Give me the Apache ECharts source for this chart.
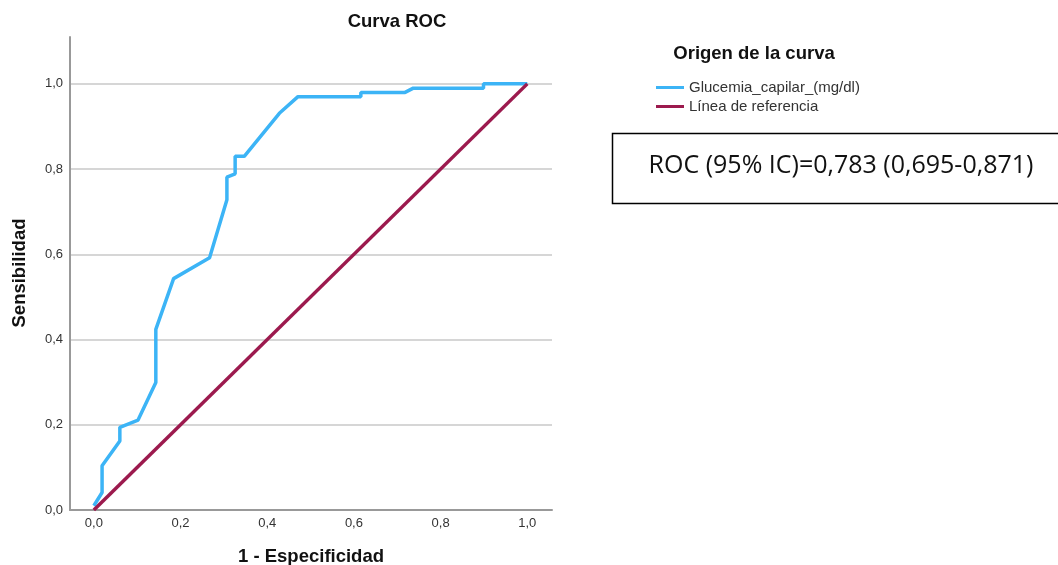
<!DOCTYPE html>
<html>
<head>
<meta charset="utf-8">
<script src="https://cdn.jsdelivr.net/npm/echarts@6/dist/echarts.min.js"></script>
<style>
  html, body { margin: 0; padding: 0; background: #fff; }
  #chart { width: 1058px; height: 565px; }
</style>
</head>
<body>
<div id="chart"></div>
<script>
// puntos de la curva ROC (1 - especificidad, sensibilidad)
var rocX = [0, 0.019, 0.019, 0.06, 0.06, 0.102, 0.143, 0.143, 0.184, 0.267, 0.307, 0.307, 0.326, 0.326, 0.347, 0.428, 0.471, 0.616, 0.616, 0.718, 0.737, 0.899, 0.899, 1.0]
var rocY = [0.01, 0.041, 0.104, 0.162, 0.194, 0.211, 0.299, 0.424, 0.543, 0.592, 0.728, 0.781, 0.789, 0.83, 0.83, 0.931, 0.97, 0.97, 0.98, 0.98, 0.99, 0.99, 1.0, 1.0]
// linea de referencia
var refX = [0, 1]
var refY = [0, 1]
var tickValues = [0, 0.2, 0.4, 0.6, 0.8, 1.0]

var seriesNames = ['Glucemia_capilar_(mg/dl)', 'Línea de referencia']
var rocText = 'ROC (95% IC)=0,783 (0,695-0,871)'

var chart = echarts.init(document.getElementById('chart'))

function pares(xs, ys) {
  return xs.map(function (x, i) { return [x, ys[i]] })
}
function fmt(v) {
  return v.toFixed(1).replace('.', ',')
}

var titleFont = 'bold 18.5px Liberation Sans, Arial, sans-serif'

var option = {
  animation: false,
  backgroundColor: '#ffffff',
  textStyle: { fontFamily: 'Liberation Sans, Arial, sans-serif' },
  grid: { left: 70, right: 506, top: 37, bottom: 55 },
  legend: {
    orient: 'vertical',
    left: 651,
    top: 75,
    itemWidth: 28,
    itemHeight: 3,
    itemGap: 4,
    icon: 'rect',
    textStyle: { fontSize: 15, color: '#333' },
    data: seriesNames
  },
  xAxis: {
    type: 'value',
    min: -0.055,
    max: 1.057,
    axisLine: { show: true, onZero: false, lineStyle: { color: '#999', width: 2 } },
    axisTick: { show: false, customValues: tickValues },
    splitLine: { show: false },
    axisLabel: { customValues: tickValues, formatter: fmt, color: '#333', fontSize: 13, margin: 7 }
  },
  yAxis: {
    type: 'value',
    min: 0,
    max: 1.11,
    axisLine: { show: true, onZero: false, lineStyle: { color: '#999', width: 2 } },
    axisTick: { show: false, customValues: tickValues },
    splitLine: { show: true, lineStyle: { color: '#d6d6d6', width: 2 } },
    axisLabel: { customValues: tickValues, formatter: fmt, color: '#333', fontSize: 13, margin: 7 }
  },
  graphic: [
    { type: 'text', style: { text: 'Curva ROC', x: 397, y: 22, align: 'center', verticalAlign: 'middle', font: titleFont, fill: '#111' } },
    { type: 'text', style: { text: '1 - Especificidad', x: 311, y: 557, align: 'center', verticalAlign: 'middle', font: titleFont, fill: '#111' } },
    { type: 'text', x: 20, y: 273, rotation: Math.PI / 2, style: { text: 'Sensibilidad', x: 0, y: 0, align: 'center', verticalAlign: 'middle', font: titleFont, fill: '#111' } },
    { type: 'text', style: { text: 'Origen de la curva', x: 754, y: 54, align: 'center', verticalAlign: 'middle', font: titleFont, fill: '#111' } },
    { type: 'rect', shape: { x: 612.5, y: 133.5, width: 460, height: 70 }, style: { fill: 'none', stroke: '#000', lineWidth: 1.5 } },
    { type: 'text', style: { text: rocText, x: 841, y: 166, align: 'center', verticalAlign: 'middle', font: '25px Open Sans, Liberation Sans, sans-serif', fill: '#111' } }
  ],
  series: [
    {
      name: seriesNames[0],
      type: 'line',
      data: pares(rocX, rocY),
      showSymbol: false,
      itemStyle: { color: '#3cb4f6' },
      lineStyle: { color: '#3cb4f6', width: 3.5 },
      z: 3
    },
    {
      name: seriesNames[1],
      type: 'line',
      data: pares(refX, refY),
      showSymbol: false,
      itemStyle: { color: '#9c1a4e' },
      lineStyle: { color: '#9c1a4e', width: 3.5 },
      z: 4
    }
  ]
}
chart.setOption(option)
window.addEventListener('resize', function () { chart.resize() })
</script>
</body>
</html>
